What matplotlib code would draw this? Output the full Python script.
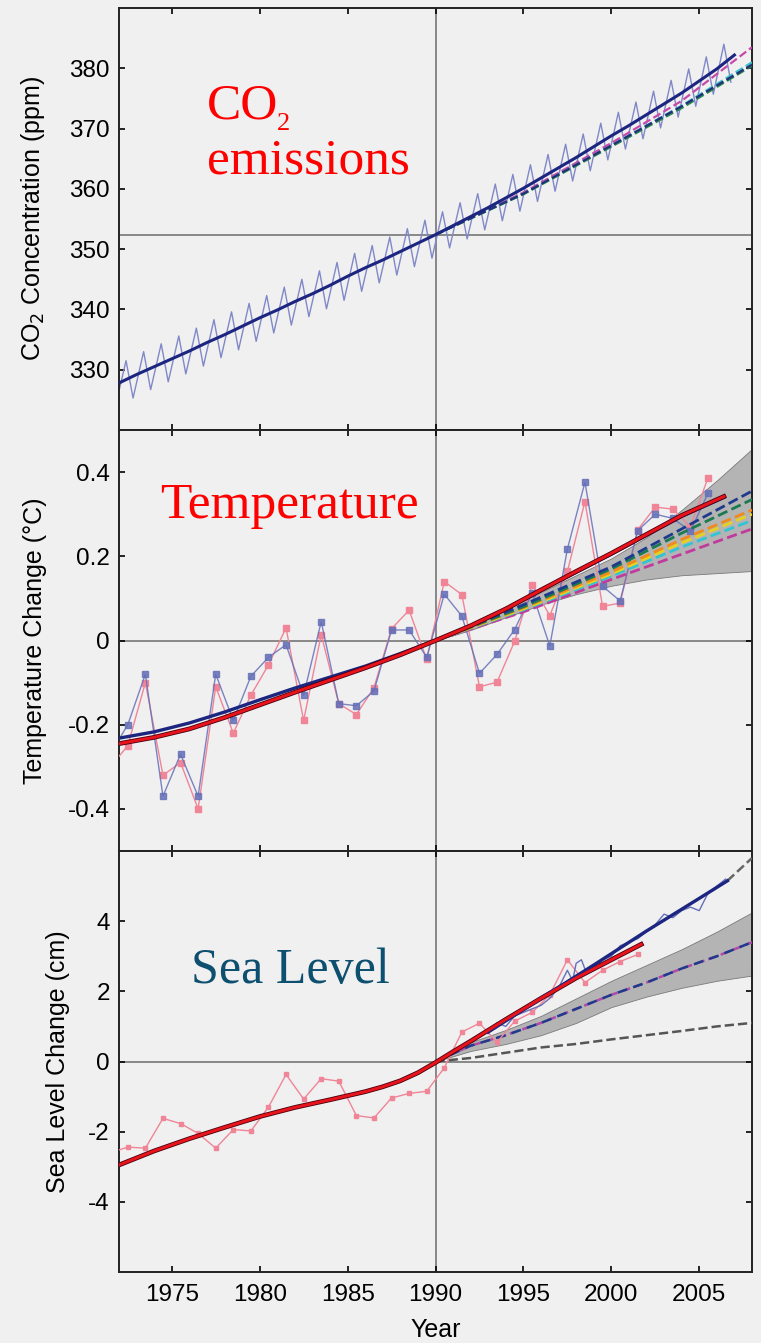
import numpy as np
import matplotlib.pyplot as plt

plt.rcParams['font.family'] = ['Liberation Sans', 'DejaVu Sans']
SERIF = ['Liberation Serif', 'DejaVu Serif']

# ---------------- CO2 (ppm) ----------------
co2_years = list(range(1972, 2008))
co2_trend = [327.8, 329.2, 330.5, 331.8, 333.1, 334.5, 335.8, 337.2, 338.6, 339.9,
             341.3, 342.6, 344.0, 345.5, 346.9, 348.2, 349.6, 351.0, 352.4, 353.9,
             355.4, 356.9, 358.5, 360.1, 361.8, 363.5, 365.2, 367.0, 368.8, 370.5,
             372.3, 374.1, 375.9, 377.9, 379.9, 382.2]
# seasonal maxima (May) and minima (Oct) of the monthly record
co2_peak_years = list(range(1972, 2007))
co2_peak = [331.5, 333.0, 334.3, 335.6, 336.9, 338.3, 339.6, 341.0, 342.3, 343.7,
            345.0, 346.4, 347.8, 349.3, 350.6, 352.0, 353.4, 354.8, 356.2, 357.7,
            359.2, 360.8, 362.4, 364.0, 365.7, 367.4, 369.1, 370.9, 372.7, 374.4,
            376.2, 378.0, 379.9, 381.9, 384.0]
co2_trough_years = list(range(1971, 2007))
co2_trough = [324.0, 325.3, 326.7, 328.0, 329.3, 330.6, 332.0, 333.3, 334.7, 336.1,
              337.4, 338.8, 340.1, 341.5, 343.0, 344.4, 345.7, 347.1, 348.5, 350.2,
              351.7, 353.2, 354.7, 356.3, 357.9, 359.6, 361.3, 363.0, 364.8, 366.6,
              368.3, 370.1, 371.9, 373.7, 375.7, 377.7]
co2_ref = 352.3
proj_years = [1990, 1995, 2000, 2004, 2008]
co2_proj_magenta = [352.4, 359.4, 367.6, 374.6, 383.5]
co2_proj_cyan = [352.4, 359.2, 367.2, 373.8, 381.0]
co2_proj_green = [352.4, 359.1, 367.0, 373.4, 380.4]
co2_proj_navy = [352.4, 359.2, 367.2, 373.7, 380.6]

# ---------------- Temperature (deg C) ----------------
temp_obs_years = [y + 0.5 for y in range(1971, 2006)]
temp_red = [-0.30, -0.25, -0.10, -0.32, -0.29, -0.40, -0.11, -0.22, -0.13, -0.058,
            0.03, -0.19, 0.014, -0.15, -0.176, -0.112, 0.028, 0.072, -0.045, 0.14,
            0.109, -0.11, -0.099, -0.002, 0.133, 0.059, 0.164, 0.33, 0.081, 0.089,
            0.263, 0.317, 0.312, 0.27, 0.387]
temp_blue = [-0.27, -0.20, -0.08, -0.37, -0.27, -0.37, -0.08, -0.19, -0.085, -0.04,
             -0.01, -0.13, 0.045, -0.15, -0.155, -0.12, 0.025, 0.025, -0.04, 0.11,
             0.058, -0.078, -0.033, 0.026, 0.113, -0.013, 0.217, 0.376, 0.129, 0.094,
             0.261, 0.30, 0.29, 0.26, 0.35]
temp_trend_years = [1972, 1974, 1976, 1978, 1980, 1982, 1984, 1986, 1988, 1990,
                    1992, 1994, 1996, 1998, 2000, 2002, 2004, 2006.4]
temp_trend_blue = [-0.232, -0.217, -0.196, -0.170, -0.141, -0.113, -0.087, -0.061, -0.031, 0.0,
                   0.035, 0.075, 0.119, 0.162, 0.205, 0.25, 0.295, 0.34]
temp_trend_red = [-0.245, -0.230, -0.210, -0.183, -0.153, -0.123, -0.094, -0.065, -0.034, 0.0,
                  0.035, 0.075, 0.12, 0.164, 0.207, 0.252, 0.297, 0.342]
band_years = [1990, 1992, 1994, 1996, 1998, 2000, 2002, 2004, 2006, 2008]
temp_band_hi = [0.0, 0.035, 0.075, 0.115, 0.155, 0.195, 0.245, 0.31, 0.38, 0.455]
temp_band_lo = [0.0, 0.025, 0.055, 0.085, 0.11, 0.13, 0.145, 0.155, 0.16, 0.165]
temp_proj_navy = [0.0, 0.085, 0.175, 0.265, 0.355]
temp_proj_green = [0.0, 0.08, 0.17, 0.255, 0.335]
temp_proj_orange = [0.0, 0.078, 0.163, 0.24, 0.31]
temp_proj_yellow = [0.0, 0.075, 0.158, 0.232, 0.30]
temp_proj_cyan = [0.0, 0.073, 0.153, 0.222, 0.285]
temp_proj_magenta = [0.0, 0.068, 0.145, 0.205, 0.265]

# ---------------- Sea level (cm) ----------------
sl_gauge_years = [y + 0.5 for y in range(1971, 2002)]
sl_gauge = [-2.6, -2.44, -2.47, -1.62, -1.77, -2.05, -2.47, -1.94, -1.98, -1.30,
            -0.37, -1.07, -0.49, -0.56, -1.54, -1.61, -1.04, -0.91, -0.85, -0.18,
            0.84, 1.09, 0.55, 1.15, 1.40, 1.90, 2.90, 2.25, 2.60, 2.85, 3.05]
sl_sat_years = [1993.0, 1993.5, 1994.0, 1994.5, 1995.0, 1995.5, 1996.0, 1996.5, 1997.0, 1997.5,
                1997.8, 1998.0, 1998.3, 1998.6, 1999.0, 1999.5, 2000.0, 2000.5, 2001.0, 2001.5,
                2002.0, 2002.5, 2003.0, 2003.5, 2004.0, 2004.5, 2005.0, 2005.5, 2006.0, 2006.5]
sl_sat = [0.8, 1.1, 1.0, 1.3, 1.4, 1.5, 1.6, 1.8, 2.1, 2.6,
          2.3, 2.8, 2.9, 2.5, 2.6, 2.9, 3.0, 3.3, 3.4, 3.5,
          3.7, 3.9, 4.2, 4.1, 4.3, 4.4, 4.3, 4.8, 5.0, 5.2]
sl_trend_red_years = [1972, 1974, 1976, 1978, 1980, 1982, 1984, 1986, 1987, 1988,
                      1989, 1990, 1991, 1992, 1994, 1996, 1998, 2000, 2001.7]
sl_trend_red = [-2.95, -2.55, -2.2, -1.88, -1.57, -1.31, -1.09, -0.86, -0.72, -0.55,
                -0.32, -0.03, 0.28, 0.58, 1.2, 1.8, 2.38, 2.9, 3.34]
sl_trend_blue_years = [1993, 1996, 1999, 2002, 2005, 2006.6]
sl_trend_blue = [0.84, 1.8, 2.75, 3.72, 4.65, 5.15]
sl_ext_years = [2006.6, 2008]
sl_ext = [5.15, 5.8]
sl_band_hi = [0.0, 0.55, 0.9, 1.3, 1.8, 2.3, 2.75, 3.2, 3.7, 4.25]
sl_band_lo = [0.0, 0.3, 0.5, 0.75, 1.1, 1.55, 1.85, 2.1, 2.3, 2.45]
sl_proj_mid = [0.0, 0.45, 0.75, 1.1, 1.5, 1.9, 2.25, 2.65, 3.0, 3.4]
sl_proj_low = [0.0, 0.1, 0.25, 0.4, 0.5, 0.63, 0.75, 0.87, 1.0, 1.1]

year_ticks = [1975, 1980, 1985, 1990, 1995, 2000, 2005]

BG = '#f0f0f0'
NAVY = '#1c2580'
RED = '#e8141c'
OBS_BLUE = '#6670b8'
OBS_PINK = '#ef8597'
REFC = '#888888'

fig = plt.figure(figsize=(7.61, 13.43), dpi=100, facecolor=BG)
left, width = 119 / 761, 633 / 761
ax1 = fig.add_axes([left, 1 - 430 / 1343, width, 422 / 1343], facecolor=BG)
ax2 = fig.add_axes([left, 1 - 851 / 1343, width, 421 / 1343], facecolor=BG)
ax3 = fig.add_axes([left, 1 - 1272 / 1343, width, 421 / 1343], facecolor=BG)

for ax in (ax1, ax2, ax3):
    ax.set_xlim(1972, 2008)
    ax.set_xticks(year_ticks)
    ax.axvline(1990, color=REFC, lw=1.4, zorder=1)
    ax.tick_params(direction='in', top=True, right=True, length=4.5, width=1.2,
                   labelsize=17.5, pad=6.5)
    ax.tick_params(axis='x', pad=8.5)
    for s in ax.spines.values():
        s.set_linewidth(1.4)
        s.set_color('#222222')

# ---- panel 1: CO2 ----
sx, sy = [], []
for i in range(len(co2_trough)):
    sx.append(co2_trough_years[i] + 0.8)
    sy.append(co2_trough[i])
    if i < len(co2_peak):
        sx.append(co2_peak_years[i] + 0.4)
        sy.append(co2_peak[i])
ax1.axhline(co2_ref, color=REFC, lw=1.4, zorder=1)
ax1.plot(sx, sy, color='#8088c8', lw=1.0, zorder=2)
ax1.plot(proj_years, co2_proj_magenta, color='#c84aa8', lw=1.6, ls='--', zorder=3)
ax1.plot(proj_years, co2_proj_cyan, color='#3cc0c8', lw=1.6, ls='--', zorder=3)
ax1.plot(proj_years, co2_proj_green, color='#2a8a50', lw=1.6, ls='--', zorder=3)
ax1.plot(proj_years, co2_proj_navy, color='#22307a', lw=1.6, ls='--', zorder=3)
ax1.plot(co2_years, co2_trend, color=NAVY, lw=2.2, zorder=4)
ax1.set_ylim(320, 390)
ax1.set_yticks([330, 340, 350, 360, 370, 380])
ax1.tick_params(labelbottom=False)
ax1.set_ylabel('CO$_2$ Concentration (ppm)', fontsize=18)
ax1.yaxis.set_label_coords(-0.114, 0.5)
ax1.text(0.139, 0.739, 'CO', transform=ax1.transAxes, color='red', fontsize=37,
         family=SERIF, va='baseline')
ax1.text(0.25, 0.711, '2', transform=ax1.transAxes, color='red', fontsize=19,
         family=SERIF, va='baseline')
ax1.text(0.139, 0.609, 'emissions', transform=ax1.transAxes, color='red', fontsize=37,
         family=SERIF, va='baseline')

# ---- panel 2: temperature ----
ax2.axhline(0, color=REFC, lw=1.4, zorder=1)
ax2.fill_between(band_years, temp_band_lo, temp_band_hi, facecolor='#b4b4b4',
                 edgecolor='#7a7a7a', lw=0.6, zorder=2)
ax2.plot(temp_obs_years, temp_red, color=OBS_PINK, lw=1.0, marker='s', ms=4, zorder=3)
ax2.plot(temp_obs_years, temp_blue, color=OBS_BLUE, lw=1.0, marker='s', ms=4, alpha=0.85, zorder=3)
for vals, c in [(temp_proj_magenta, '#c03c9c'), (temp_proj_cyan, '#30c4d4'),
                (temp_proj_yellow, '#e6d21c'), (temp_proj_orange, '#f08a1c'),
                (temp_proj_green, '#1b7a4f'), (temp_proj_navy, '#1f3a8c')]:
    ax2.plot(proj_years, vals, color=c, lw=2.0, ls='--', zorder=4)
ax2.plot(temp_trend_years, temp_trend_blue, color=NAVY, lw=2.4, zorder=5)
ax2.plot(temp_trend_years, temp_trend_red, color='#4a0010', lw=3.4, zorder=5)
ax2.plot(temp_trend_years, temp_trend_red, color=RED, lw=2.2, zorder=6)
ax2.set_ylim(-0.5, 0.5)
ax2.set_yticks([-0.4, -0.2, 0, 0.2, 0.4])
ax2.set_yticklabels(['-0.4', '-0.2', '0', '0.2', '0.4'])
ax2.tick_params(labelbottom=False)
ax2.set_ylabel('Temperature Change (°C)', fontsize=18)
ax2.yaxis.set_label_coords(-0.114, 0.5)
ax2.text(0.065, 0.791, 'Temperature', transform=ax2.transAxes, color='red', fontsize=37,
         family=SERIF, va='baseline')

# ---- panel 3: sea level ----
ax3.axhline(0, color=REFC, lw=1.4, zorder=1)
ax3.fill_between(band_years, sl_band_lo, sl_band_hi, facecolor='#b4b4b4',
                 edgecolor='#7a7a7a', lw=0.6, zorder=2)
ax3.plot(band_years, sl_proj_low, color='#555555', lw=1.8, ls='--', zorder=3)
ax3.plot(band_years, sl_proj_mid, color='#b04aa8', lw=1.8, ls='--', zorder=3)
ax3.plot(band_years, sl_proj_mid, color='#1f3a8c', lw=1.8, ls=(0, (4, 2.5)), zorder=3)
ax3.plot(sl_ext_years, sl_ext, color='#666666', lw=1.8, ls='--', zorder=3)
ax3.plot(sl_gauge_years, sl_gauge, color=OBS_PINK, lw=1.0, marker='s', ms=3.5, zorder=4)
ax3.plot(sl_sat_years, sl_sat, color=OBS_BLUE, lw=1.0, zorder=4)
ax3.plot(sl_trend_red_years, sl_trend_red, color='#4a0010', lw=3.4, zorder=5)
ax3.plot(sl_trend_red_years, sl_trend_red, color=RED, lw=2.2, zorder=6)
ax3.plot(sl_trend_blue_years, sl_trend_blue, color=NAVY, lw=2.4, zorder=5)
ax3.set_ylim(-6, 6)
ax3.set_yticks([-4, -2, 0, 2, 4])
ax3.set_yticklabels(['-4', '-2', '0', '2', '4'])
ax3.set_ylabel('Sea Level Change (cm)', fontsize=18)
ax3.yaxis.set_label_coords(-0.077, 0.5)
ax3.set_xlabel('Year', fontsize=18)
ax3.xaxis.set_label_coords(0.5, -0.109)
ax3.text(0.114, 0.686, 'Sea Level', transform=ax3.transAxes, color='#0d4f6e', fontsize=36,
         family=SERIF, va='baseline')

fig.savefig('out.png', dpi=100, facecolor=BG)
